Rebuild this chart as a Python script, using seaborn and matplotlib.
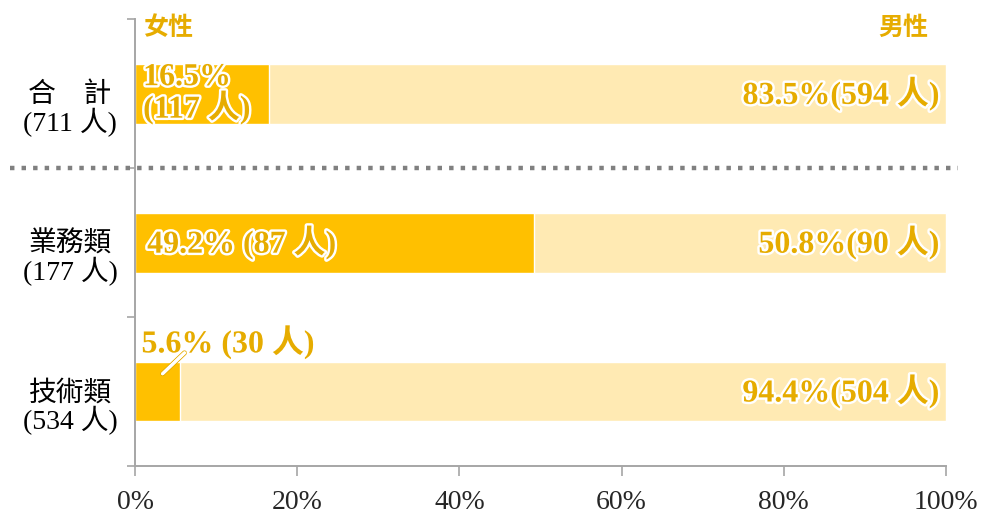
import matplotlib
matplotlib.use("Agg")
import matplotlib.pyplot as plt
import matplotlib.patheffects as pe
import matplotlib.transforms as mtrans
import seaborn as sns
import pandas as pd
from matplotlib.lines import Line2D

sns.set_theme(style="white")
plt.rcParams['font.family'] = ['Liberation Serif', 'Noto Sans CJK TC', 'DejaVu Sans']

categories = ["合　計\n(711 人)", "業務類\n(177 人)", "技術類\n(534 人)"]
female_pct = [16.5, 49.2, 5.6]
male_pct = [83.5, 50.8, 94.4]
female_n = [117, 87, 30]
male_n = [594, 90, 504]
xticks = [0, 20, 40, 60, 80, 100]
xtick_labels = ["0%", "20%", "40%", "60%", "80%", "100%"]

df = pd.DataFrame({"cat": categories, "female": female_pct,
                   "male": male_pct})
df["total"] = df["female"] + df["male"]

DARK = "#FFC000"
LIGHT = "#FFEAB3"
TXT = "#E6AC00"
AX = "#A6A6A6"

fig = plt.figure(figsize=(9.81, 5.13), dpi=100)
ax = fig.add_axes([135/981, 1-466/513, (946-135)/981, (466-19.5)/513])

sns.barplot(data=df, y="cat", x="total", color=LIGHT, orient="h",
            width=0.4, saturation=1, ax=ax)
sns.barplot(data=df, y="cat", x="female", color=DARK, orient="h",
            width=0.4, saturation=1, ax=ax)

ax.set_xlim(0, 100)
ax.set_ylim(2.5, -0.5)
ax.set_xlabel("")
ax.set_ylabel("")
ax.set_xticks(xticks, xtick_labels)
ax.set_yticks([-0.5, 0.5, 1.5, 2.5], ["", "", "", ""])
ax.tick_params(axis="y", which="major", length=6, width=1.2, color=AX, left=True)
ax.tick_params(axis="x", length=7, width=1.2, color=AX, bottom=True, labelsize=20, pad=10)

# category labels (shifted slightly below bar centre as in the reference)
lab_tr = ax.get_yaxis_transform() + mtrans.ScaledTranslation(0, -0.16, fig.dpi_scale_trans)
for i, c in enumerate(categories):
    ax.text(-0.080, i, c, transform=lab_tr, ha="center", va="center",
            multialignment="center", fontsize=20, linespacing=0.98, color="black")

for s in ["top", "right"]:
    ax.spines[s].set_visible(False)
for s in ["left", "bottom"]:
    ax.spines[s].set_color(AX)
    ax.spines[s].set_linewidth(1.4)

glow = [pe.withStroke(linewidth=3.5, foreground="white")]
kw = dict(color=TXT, fontweight="bold", fontsize=23, path_effects=glow, va="center")

# 合計
ax.text(1.0, 0, f"{female_pct[0]}%\n({female_n[0]} 人)", ha="left",
        linespacing=0.95, **kw)
ax.text(99.2, 0, f"{male_pct[0]}%({male_n[0]} 人)", ha="right", **kw)
# 業務類
ax.text(1.5, 1, f"{female_pct[1]}% ({female_n[1]} 人)", ha="left", **kw)
ax.text(99.2, 1, f"{male_pct[1]}%({male_n[1]} 人)", ha="right", **kw)
# 技術類
ax.text(0.8, 1.67, f"{female_pct[2]}% ({female_n[2]} 人)", ha="left", **kw)
ax.text(99.2, 2, f"{male_pct[2]}%({male_n[2]} 人)", ha="right", **kw)
ax.plot([3.4, 6.1], [1.88, 1.74], color="white", lw=2.2, solid_capstyle="round",
        path_effects=[pe.withStroke(linewidth=3.6, foreground=TXT), pe.Normal()])

# headers
ax.text(1.0, -0.44, "女性", ha="left", color=TXT, fontweight="bold", fontsize=18,
        va="center", family=["Noto Sans CJK TC"])
ax.text(97.8, -0.44, "男性", ha="right", color=TXT, fontweight="bold", fontsize=18,
        va="center", family=["Noto Sans CJK TC"])

# dotted separator
fig.add_artist(Line2D([10/981, 958/981], [1-168/513, 1-168/513], color="#808080",
                      lw=3.2, linestyle=(0, (1.0, 1.6))))

fig.savefig("out.png", dpi=100)
